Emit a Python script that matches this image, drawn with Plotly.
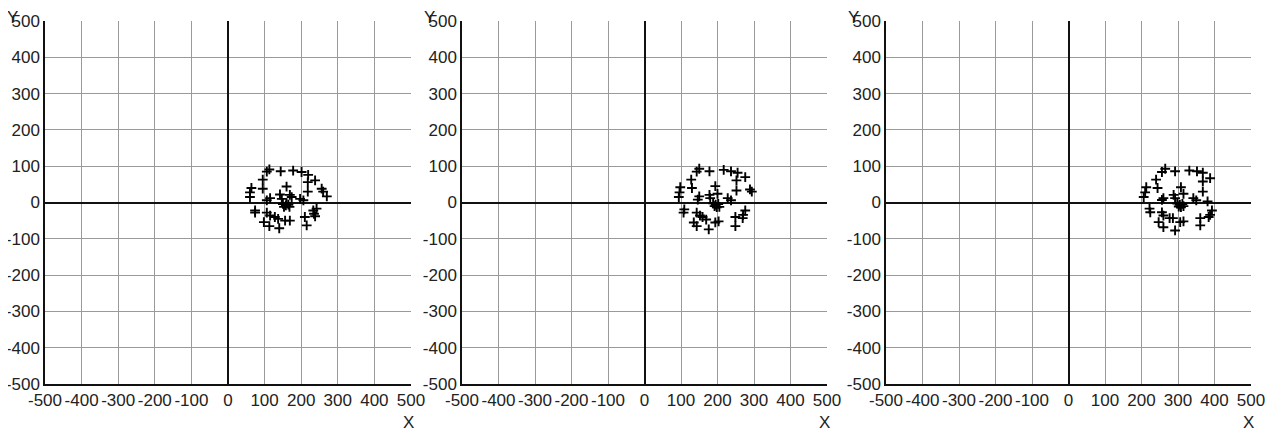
import plotly.graph_objects as go

# Panel 1 points
x1 = [113, 106, 95, 144, 178, 201, 219, 218, 238, 64, 60, 60, 95, 160, 218, 256, 260, 270,
      142, 169, 147, 174, 115, 106, 197, 206, 150, 158, 165, 160, 153, 168,
      74, 74, 106, 115, 128, 137, 156, 169, 98, 113, 140, 210, 233, 235, 238, 215, 242]
y1 = [91, 85, 63, 86, 88, 84, 76, 56, 61, 40, 28, 15, 38, 44, 30, 38, 30, 17,
      22, 21, 10, 15, 12, 6, 10, 6, -4, -8, -6, -2, -12, -12,
      -22, -28, -28, -36, -40, -45, -50, -50, -54, -65, -71, -40, -22, -31, -38, -63, -17]

# Panel 2 points
x2 = [150, 143, 128, 178, 217, 237, 255, 276, 252, 252, 130, 98, 96, 94, 194, 289, 294,
      178, 200, 150, 180, 146, 228, 237, 188, 195, 202, 192, 198, 205,
      109, 107, 143, 152, 159, 169, 203, 194, 135, 143, 176, 249, 276, 270, 269, 249]
y2 = [93, 85, 63, 86, 90, 86, 82, 70, 61, 33, 40, 42, 28, 15, 45, 36, 30,
      21, 24, 17, 12, 8, 12, 6, -2, -6, -4, -10, -13, -12,
      -19, -28, -28, -36, -40, -47, -52, -55, -55, -65, -74, -40, -22, -34, -43, -65]

# Panel 3 points
x3 = [265, 256, 240, 292, 331, 352, 368, 388, 368, 368, 244, 213, 210, 206, 308, 288, 315,
      260, 256, 292, 342, 350, 381, 298, 305, 312, 302, 308, 315,
      222, 224, 256, 260, 277, 286, 306, 315, 247, 260, 292, 361, 361, 393, 388, 384]
y3 = [93, 84, 63, 86, 88, 86, 82, 67, 58, 30, 40, 42, 28, 15, 42, 21, 24,
      12, 7, 12, 12, 6, 3, -3, -6, -4, -11, -13, -10,
      -17, -27, -27, -36, -43, -43, -54, -52, -54, -68, -77, -43, -63, -22, -34, -40]

tick_vals = [-500, -400, -300, -200, -100, 0, 100, 200, 300, 400, 500]
tick_text = [str(v) for v in tick_vals]

# the page body adds an 8px margin, so the figure is drawn 8px in from the window corner
OFF = 8
W, H = 1273 - OFF, 432 - OFF
x_domains = [(45, 411), (462, 827), (886, 1251)]
top_px, bot_px = 21, 384
y_dom = ((H - (bot_px - OFF)) / H, (H - (top_px - OFF)) / H)

fig = go.Figure()
series = [(x1, y1), (x2, y2), (x3, y3)]
font = dict(family="Liberation Sans, Arial, sans-serif", size=17, color="#222222")

for i, (xs, ys) in enumerate(series):
    sfx = "" if i == 0 else str(i + 1)
    fig.add_trace(go.Scatter(
        x=xs, y=ys, mode="markers",
        marker=dict(symbol="cross-thin", size=7, line=dict(color="#000000", width=1.9)),
        xaxis="x" + sfx, yaxis="y" + sfx, showlegend=False, hoverinfo="skip"))
    ax = dict(range=[-500, 500], tickmode="array", tickvals=tick_vals, ticktext=tick_text,
              showgrid=True, gridcolor="#9a9a9a", gridwidth=1,
              zeroline=True, zerolinecolor="#111111", zerolinewidth=2,
              showline=True, linecolor="#111111", linewidth=1.5,
              ticks="", tickfont=font, tickangle=0, automargin=False, fixedrange=True)
    d0, d1 = x_domains[i]
    fig.layout["xaxis" + sfx] = dict(ax, domain=[(d0 - OFF) / W, (d1 - OFF) / W], anchor="y" + sfx)
    fig.layout["yaxis" + sfx] = dict(ax, domain=list(y_dom), anchor="x" + sfx)
    fig.add_annotation(text="Y", x=(d0 - 33 - OFF) / W, y=1 - (17 - OFF) / H,
                       xref="paper", yref="paper", showarrow=False, font=font,
                       xanchor="center", yanchor="middle")
    fig.add_annotation(text="X", x=(d1 - 3 - OFF) / W, y=1 - (422 - OFF) / H,
                       xref="paper", yref="paper", showarrow=False, font=font,
                       xanchor="center", yanchor="middle")

fig.update_layout(width=W, height=H, margin=dict(l=0, r=0, t=0, b=0, autoexpand=False),
                  paper_bgcolor="white", plot_bgcolor="white", showlegend=False)

fig.write_html("out.html")
